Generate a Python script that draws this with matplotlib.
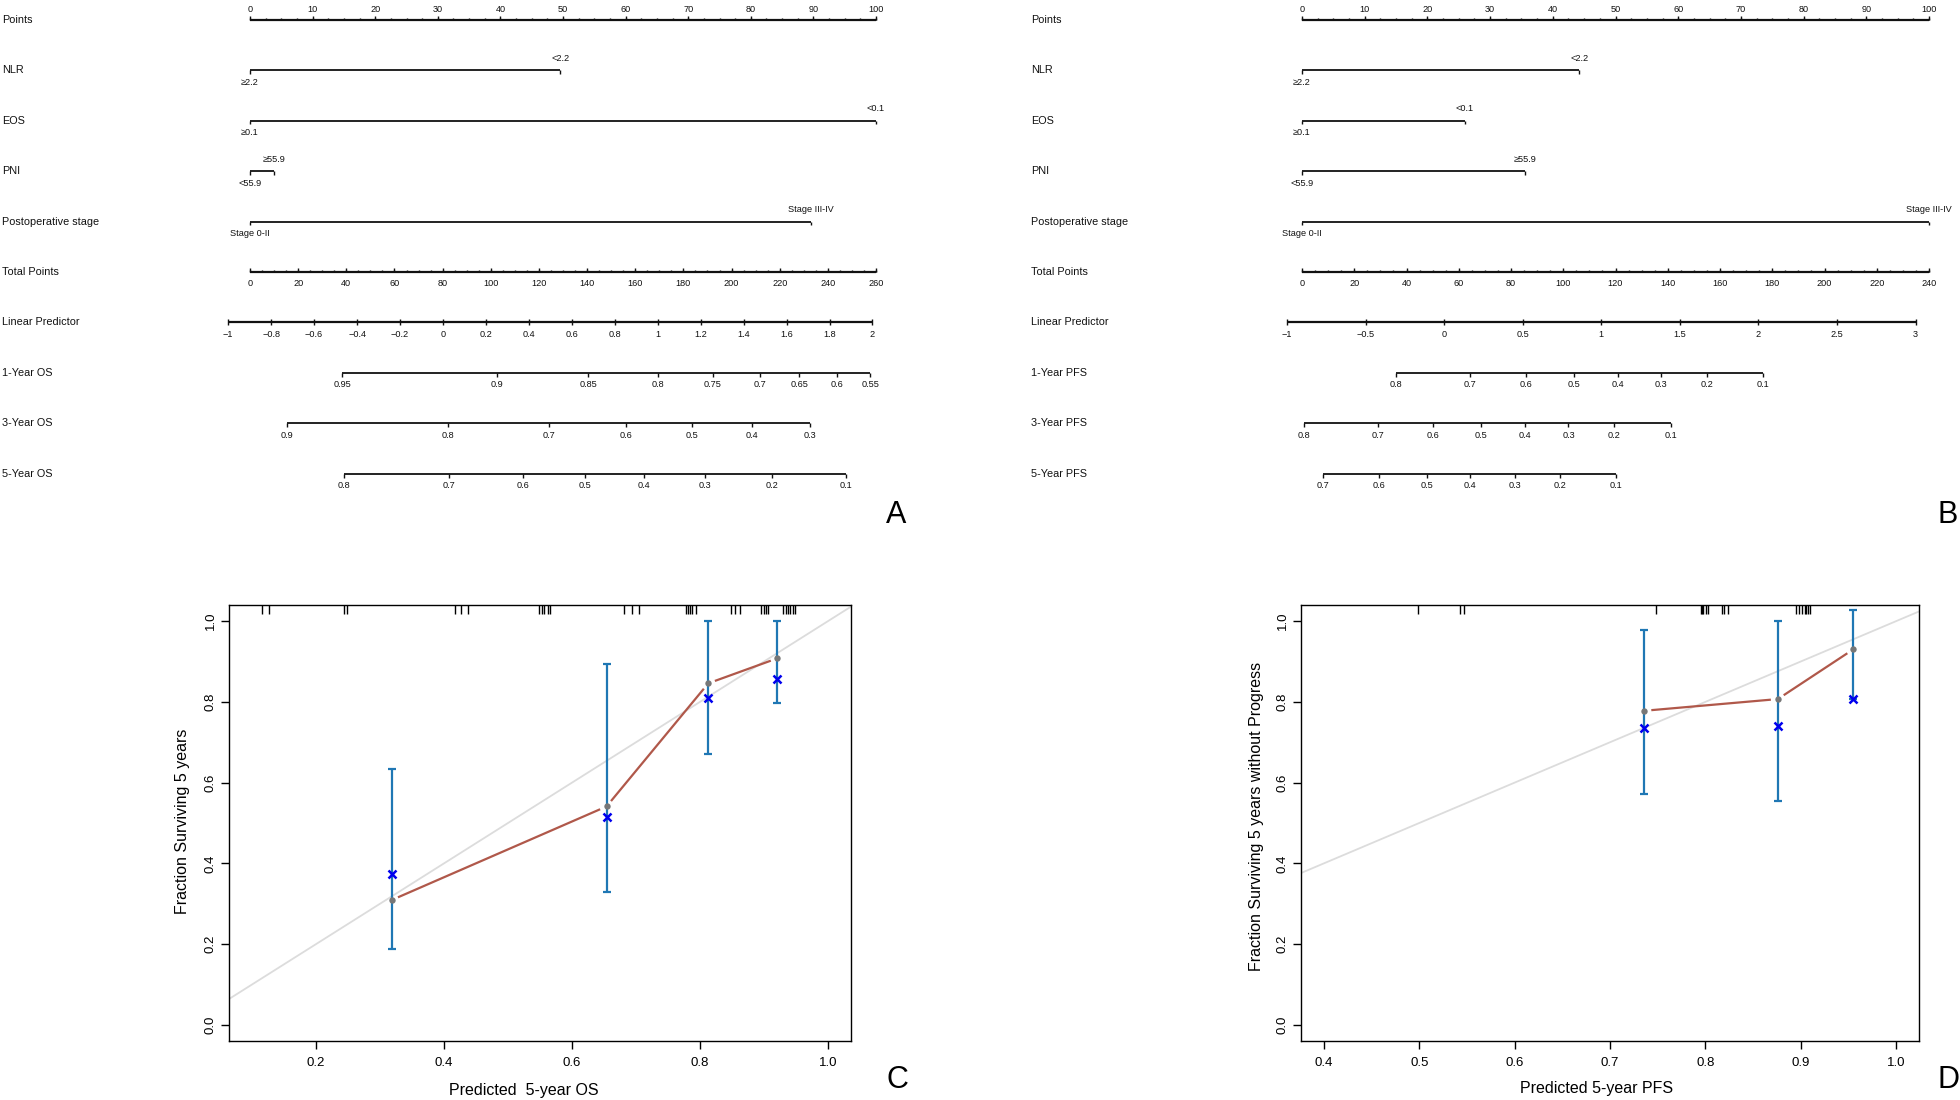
import matplotlib
matplotlib.use('Agg')
import matplotlib.pyplot as plt
import numpy as np

plt.rcParams['font.family'] = ['Liberation Sans', 'DejaVu Sans']

# ---------------- Nomogram A (OS) ----------------
A_variables = ['NLR', 'EOS', 'PNI', 'Postoperative stage']
A_levels = [['≥2.2', '<2.2'], ['≥0.1', '<0.1'], ['<55.9', '≥55.9'], ['Stage 0-II', 'Stage III-IV']]
A_level_points = [[0, 49.6], [0, 100], [0, 3.9], [0, 89.6]]
A_total_max = 260
A_total_ticks = [0, 20, 40, 60, 80, 100, 120, 140, 160, 180, 200, 220, 240, 260]
A_lp_ticks = [-1, -0.8, -0.6, -0.4, -0.2, 0, 0.2, 0.4, 0.6, 0.8, 1, 1.2, 1.4, 1.6, 1.8, 2]
A_lp_at_tp0 = -0.8985
A_lp_per_tp = 0.011211
A_surv_names = ['1-Year OS', '3-Year OS', '5-Year OS']
A_surv_ticks = [[0.95, 0.9, 0.85, 0.8, 0.75, 0.7, 0.65, 0.6, 0.55],
                [0.9, 0.8, 0.7, 0.6, 0.5, 0.4, 0.3],
                [0.8, 0.7, 0.6, 0.5, 0.4, 0.3, 0.2, 0.1]]
A_surv_tp = [[38.3, 102.6, 140.5, 169.5, 192.1, 211.7, 228.1, 243.6, 257.6],
             [15.2, 82.1, 124.3, 156.2, 183.6, 208.3, 232.6],
             [39.0, 82.6, 113.3, 139.3, 163.6, 188.8, 216.7, 247.4]]

# ---------------- Nomogram B (PFS) ----------------
B_variables = ['NLR', 'EOS', 'PNI', 'Postoperative stage']
B_levels = [['≥2.2', '<2.2'], ['≥0.1', '<0.1'], ['<55.9', '≥55.9'], ['Stage 0-II', 'Stage III-IV']]
B_level_points = [[0, 44.2], [0, 26.0], [0, 35.5], [0, 100]]
B_total_max = 240
B_total_ticks = [0, 20, 40, 60, 80, 100, 120, 140, 160, 180, 200, 220, 240]
B_lp_ticks = [-1, -0.5, 0, 0.5, 1, 1.5, 2, 2.5, 3]
B_lp_at_tp0 = -0.9047
B_lp_per_tp = 0.016625
B_surv_names = ['1-Year PFS', '3-Year PFS', '5-Year PFS']
B_surv_ticks = [[0.8, 0.7, 0.6, 0.5, 0.4, 0.3, 0.2, 0.1],
                [0.8, 0.7, 0.6, 0.5, 0.4, 0.3, 0.2, 0.1],
                [0.7, 0.6, 0.5, 0.4, 0.3, 0.2, 0.1]]
B_surv_tp = [[36.0, 64.2, 85.9, 104.3, 120.8, 137.5, 154.9, 176.5],
             [0.7, 29.1, 50.2, 68.5, 85.5, 102.0, 119.4, 141.2],
             [8.0, 29.3, 47.7, 64.4, 81.6, 98.8, 120.3]]

point_ticks = [0, 10, 20, 30, 40, 50, 60, 70, 80, 90, 100]

# ---------------- Calibration C (OS) ----------------
C_pred = [0.318, 0.654, 0.813, 0.921]
C_obs = [0.309, 0.541, 0.846, 0.908]
C_km = [0.373, 0.515, 0.809, 0.857]
C_lo = [0.188, 0.329, 0.672, 0.797]
C_hi = [0.633, 0.893, 1.0, 1.0]
C_rug = [0.115, 0.126, 0.244, 0.249, 0.417, 0.427, 0.438, 0.549, 0.553, 0.557, 0.562, 0.566,
         0.682, 0.693, 0.704, 0.778, 0.781, 0.785, 0.788, 0.793, 0.848, 0.854, 0.862,
         0.896, 0.900, 0.903, 0.907, 0.930, 0.934, 0.938, 0.941, 0.945, 0.948]
C_xticks = [0.2, 0.4, 0.6, 0.8, 1.0]
C_xlabel = 'Predicted  5-year OS'
C_ylabel = 'Fraction Surviving 5 years'

# ---------------- Calibration D (PFS) ----------------
D_pred = [0.736, 0.876, 0.955]
D_obs = [0.778, 0.807, 0.930]
D_km = [0.736, 0.741, 0.807]
D_lo = [0.571, 0.555, 0.807]
D_hi = [0.977, 1.0, 1.027]
D_rug = [0.499, 0.543, 0.547, 0.748, 0.795, 0.796, 0.798, 0.801, 0.803, 0.817, 0.820, 0.824,
         0.895, 0.898, 0.901, 0.904, 0.906, 0.908, 0.910]
D_xticks = [0.4, 0.5, 0.6, 0.7, 0.8, 0.9, 1.0]
D_xlabel = 'Predicted 5-year PFS'
D_ylabel = 'Fraction Surviving 5 years without Progress'

y_ticks = [0.0, 0.2, 0.4, 0.6, 0.8, 1.0]

W, H = 1960, 1100
fig = plt.figure(figsize=(W / 100, H / 100), dpi=100)

ROW_PX = 50.4
ROW0_PX = 20.0
TXT_ROW = 7.8
TXT_TICK = 6.6


def fmt(v):
    s = '{:g}'.format(v)
    return s.replace('-', '\u2212')


def draw_nomogram(ax_left_px, pt0_px, pt_scale, label_px, variables, levels, level_pts,
                  tp_max, tp_ticks, lp_ticks, lp0, lpslope, surv_names, surv_ticks, surv_tp):
    ax = fig.add_axes([ax_left_px / W, 0.5, 980 / W, 0.5])
    ax.set_xlim(-(pt0_px - ax_left_px) / pt_scale, (ax_left_px + 980 - pt0_px) / pt_scale)
    ax.set_ylim((550 - ROW0_PX) / ROW_PX, -ROW0_PX / ROW_PX)
    ax.axis('off')
    px = 1.0 / ROW_PX  # one pixel in row units
    lx = (label_px - pt0_px) / pt_scale
    col = '#111111'

    def row_label(r, s):
        ax.text(lx, r, s, ha='left', va='center', fontsize=TXT_ROW, color=col)

    # Points axis
    r = 0
    row_label(r, 'Points')
    ax.plot([point_ticks[0], point_ticks[-1]], [r, r], color=col, lw=1.6, solid_capstyle='butt')
    minor = np.arange(0, 100.01, 2.5)
    ax.vlines(minor, r - 1.8 * px, r, color=col, lw=1.0)
    ax.vlines(point_ticks, r - 3.6 * px, r, color=col, lw=1.0)
    for t in point_ticks:
        ax.text(t, r - 10 * px, fmt(t), ha='center', va='center', fontsize=TXT_TICK, color=col)

    # Variable axes
    for i, (name, levs, pts) in enumerate(zip(variables, levels, level_pts)):
        r = i + 1
        row_label(r, name)
        ax.plot([min(pts), max(pts)], [r, r], color=col, lw=1.3, solid_capstyle='butt')
        ax.vlines(pts, r, r + 3.5 * px, color=col, lw=1.0)
        for j, (lv, p) in enumerate(zip(levs, pts)):
            dy = 12 * px if j % 2 == 0 else -12 * px
            ax.text(p, r + dy, lv, ha='center', va='center', fontsize=TXT_TICK, color=col)

    # Total points axis
    r = len(variables) + 1
    row_label(r, 'Total Points')
    to_pt = lambda tp: np.asarray(tp, dtype=float) * 100.0 / tp_max
    ax.plot(to_pt([tp_ticks[0], tp_ticks[-1]]), [r, r], color=col, lw=1.6, solid_capstyle='butt')
    ax.vlines(to_pt(np.arange(0, tp_max + 0.01, 5)), r - 1.8 * px, r, color=col, lw=1.0)
    ax.vlines(to_pt(tp_ticks), r - 3.6 * px, r, color=col, lw=1.0)
    for t in tp_ticks:
        ax.text(to_pt(t), r + 12 * px, fmt(t), ha='center', va='center', fontsize=TXT_TICK, color=col)

    # Linear predictor axis
    r += 1
    row_label(r, 'Linear Predictor')
    lp_to_pt = lambda lp: to_pt((np.asarray(lp, dtype=float) - lp0) / lpslope)
    ax.plot(lp_to_pt([lp_ticks[0], lp_ticks[-1]]), [r, r], color=col, lw=1.6, solid_capstyle='butt')
    mids = [(a + b) / 2 for a, b in zip(lp_ticks[:-1], lp_ticks[1:])]
    ax.vlines(lp_to_pt(mids), r - 1.8 * px, r, color=col, lw=1.0)
    ax.vlines(lp_to_pt(lp_ticks), r - 3.6 * px, r + 3.0 * px, color=col, lw=1.0)
    for t in lp_ticks:
        ax.text(lp_to_pt(t), r + 12 * px, fmt(t), ha='center', va='center', fontsize=TXT_TICK, color=col)

    # Survival axes
    for k, (name, ticks, tps) in enumerate(zip(surv_names, surv_ticks, surv_tp)):
        r += 1
        row_label(r, name)
        xs = to_pt(tps)
        ax.plot([xs.min(), xs.max()], [r, r], color=col, lw=1.3, solid_capstyle='butt')
        ax.vlines(xs, r, r + 4 * px, color=col, lw=1.0)
        for t, x in zip(ticks, xs):
            ax.text(x, r + 12 * px, fmt(t), ha='center', va='center', fontsize=TXT_TICK, color=col)
    return ax


draw_nomogram(0, 250, 6.26, 2, A_variables, A_levels, A_level_points, A_total_max,
              A_total_ticks, A_lp_ticks, A_lp_at_tp0, A_lp_per_tp, A_surv_names, A_surv_ticks, A_surv_tp)
draw_nomogram(980, 1302, 6.27, 1031, B_variables, B_levels, B_level_points, B_total_max,
              B_total_ticks, B_lp_ticks, B_lp_at_tp0, B_lp_per_tp, B_surv_names, B_surv_ticks, B_surv_tp)


def gapped_line(ax, xs, ys, gap_px, **kw):
    """R type='b' line: segments stop short of each point."""
    pts = ax.transData.transform(np.column_stack([xs, ys]))
    inv = ax.transData.inverted()
    for a, b in zip(pts[:-1], pts[1:]):
        d = b - a
        n = np.hypot(*d)
        if n <= 2 * gap_px:
            continue
        u = d / n
        seg = inv.transform(np.array([a + u * gap_px, b - u * gap_px]))
        ax.plot(seg[:, 0], seg[:, 1], **kw)


def draw_calibration(left_px, right_px, xlim, xticks, pred, obs, km, lo, hi, rug,
                     xlabel, ylabel, xlabel_px, ylabel_px):
    top_px, bot_px = 605, 1041
    ax = fig.add_axes([left_px / W, 1 - bot_px / H, (right_px - left_px) / W, (bot_px - top_px) / H])
    ax.set_xlim(*xlim)
    ax.set_ylim(-0.04, 1.04)
    for s in ax.spines.values():
        s.set_linewidth(1.0)
        s.set_color('black')
    ax.axline((0, 0), slope=1, color='#dcdcdc', lw=1.3, zorder=1)
    km = np.asarray(km)
    ax.errorbar(pred, km, yerr=[km - np.asarray(lo), np.asarray(hi) - km], fmt='none',
                ecolor='#1f77b4', elinewidth=1.6, capsize=3.2, capthick=1.6, zorder=2)
    gapped_line(ax, pred, obs, 7, color='#b0584a', lw=1.6, zorder=3, solid_capstyle='butt')
    ax.plot(pred, obs, 'o', color='#777777', ms=4.6, mec='none', zorder=4)
    ax.plot(pred, km, 'x', color='#0000ee', ms=5.5, mew=1.8, zorder=5)
    ax.vlines(rug, 1.04 - 0.022, 1.04, color='black', lw=1.0, zorder=6)
    ax.set_xticks(xticks)
    ax.set_xticklabels(['{:.1f}'.format(v) for v in xticks])
    ax.set_yticks(y_ticks)
    ax.set_yticklabels(['{:.1f}'.format(v) for v in y_ticks], rotation=90, va='center')
    ax.tick_params(axis='both', direction='out', length=5.8, width=1.0, labelsize=9.5, colors='black')
    ax.tick_params(axis='x', pad=6.0)
    ax.tick_params(axis='y', pad=3.0)
    fig.text(xlabel_px[0] / W, 1 - xlabel_px[1] / H, xlabel, ha='center', va='center', fontsize=11.5)
    fig.text(ylabel_px[0] / W, 1 - ylabel_px[1] / H, ylabel, ha='center', va='center',
             fontsize=11.5, rotation=90)
    return ax


draw_calibration(229, 851, (0.064, 1.036), C_xticks, C_pred, C_obs, C_km, C_lo, C_hi, C_rug,
                 C_xlabel, C_ylabel, (524, 1090), (183, 821))
draw_calibration(1301, 1919, (0.376, 1.024), D_xticks, D_pred, D_obs, D_km, D_lo, D_hi, D_rug,
                 D_xlabel, D_ylabel, (1597, 1089), (1257, 816))

for letter, (x, y) in zip(['A', 'B', 'C', 'D'], [(896, 515), (1948, 515), (897, 1080), (1948, 1080)]):
    fig.text(x / W, 1 - y / H, letter, ha='center', va='center', fontsize=22)

fig.savefig('out.png', dpi=100)
